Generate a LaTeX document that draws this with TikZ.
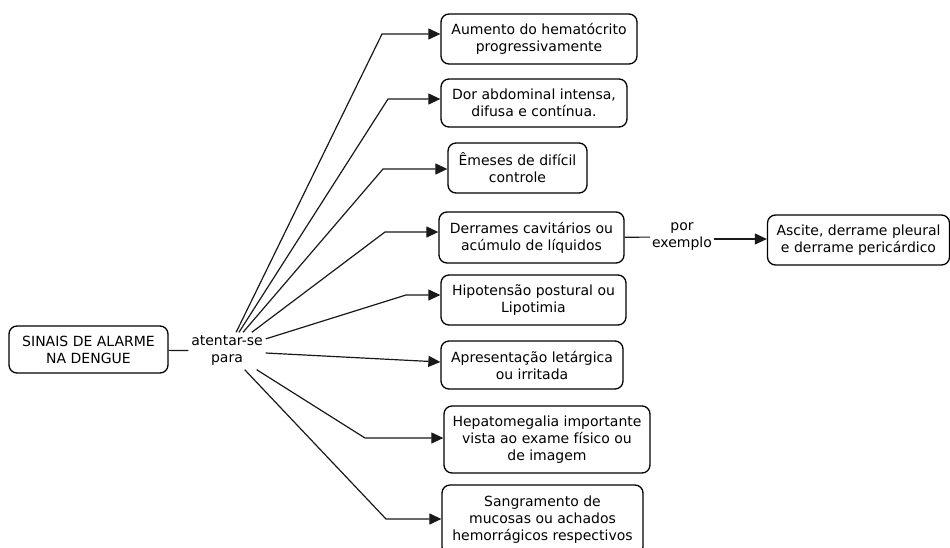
\documentclass[tikz,border=0pt]{standalone}
\usepackage{fontspec}
\setmainfont{DejaVu Sans}
\usetikzlibrary{arrows.meta}
\begin{document}
\begin{tikzpicture}[x=1pt,y=-1pt,
  font=\fontsize{14}{17}\selectfont,
  concept/.style={draw, line width=1.3pt, rounded corners=8pt, align=center,
    inner sep=0pt},
  linker/.style={align=center, inner sep=0pt, fill=white},
  link/.style={line width=1.2pt, draw=black!90},
  arr/.style={link, -{Triangle[length=12pt,width=11pt]}}]
\useasboundingbox (0,0) rectangle (950,547);
\clip (0,0) rectangle (950,547);

% concepts
\node[concept, minimum width=159pt, minimum height=47pt] (sinais) at (88.5,349.5)
  {SINAIS DE ALARME\\NA DENGUE};
\node[concept, minimum width=196pt, minimum height=50pt] (b1) at (539,39)
  {Aumento do hematócrito\\progressivamente};
\node[concept, minimum width=186pt, minimum height=48pt] (b2) at (534,103)
  {Dor abdominal intensa,\\difusa e contínua.};
\node[concept, minimum width=139pt, minimum height=50pt] (b3) at (517.5,168)
  {Êmeses de difícil\\controle};
\node[concept, minimum width=185pt, minimum height=51pt] (b4) at (531.5,237.5)
  {Derrames cavitários ou\\acúmulo de líquidos};
\node[concept, minimum width=185pt, minimum height=50pt] (b5) at (533.5,300)
  {Hipotensão postural ou\\Lipotimia};
\node[concept, minimum width=182pt, minimum height=48pt] (b6) at (532,365)
  {Apresentação letárgica\\ou irritada};
\node[concept, minimum width=206pt, minimum height=67pt] (b7) at (547,439.5)
  {Hepatomegalia importante\\vista ao exame físico ou\\de imagem};
\node[concept, minimum width=201pt, minimum height=70pt] (b8) at (542.5,520)
  {Sangramento de\\mucosas ou achados\\hemorrágicos respectivos};
\node[concept, minimum width=182pt, minimum height=50pt] (b9) at (858.5,240)
  {Ascite, derrame pleural\\e derrame pericárdico};

% linking phrases
\node[linker, minimum width=77pt, minimum height=37pt] (lab) at (227,351)
  {atentar-se\\para};
\node[linker, minimum width=64pt, minimum height=34pt] (ex) at (682,237)
  {por\\exemplo};

% bend points of the connectors
\coordinate (k1) at (382,34);
\coordinate (k2) at (388,99);
\coordinate (k3) at (383,169);
\coordinate (k4) at (385,232);
\coordinate (k5) at (406,295);
\coordinate (k6) at (300,362);
\coordinate (k7) at (365,438);
\coordinate (k8) at (386,519);
\coordinate (k9) at (700,239);

% connectors
\draw[link] (sinais) -- (lab);
\draw[arr] (lab) -- (k1) -- (k1 -| b1.west);
\draw[arr] (lab) -- (k2) -- (k2 -| b2.west);
\draw[arr] (lab) -- (k3) -- (k3 -| b3.west);
\draw[arr] (lab) -- (k4) -- (k4 -| b4.west);
\draw[arr] (lab) -- (k5) -- (k5 -| b5.west);
\draw[arr] (lab) -- (k6 -| b6.west);
\draw[arr] (lab) -- (k7) -- (k7 -| b7.west);
\draw[arr] (lab) -- (k8) -- (k8 -| b8.west);
\draw[link] (b4) -- (ex);
\draw[arr] (ex.east |- k9) -- (k9 -| b9.west);
\end{tikzpicture}
\end{document}
